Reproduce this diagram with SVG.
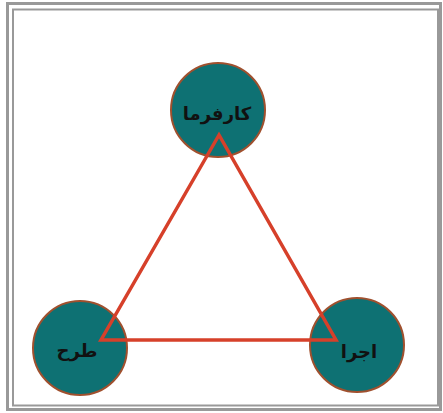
<svg xmlns="http://www.w3.org/2000/svg" width="443" height="413" viewBox="0 0 443 413">
<style>
.frame{fill:none;stroke:#999999}
.node circle{fill:#0e7173;stroke:#a0502e;stroke-width:2}
.node text{font-family:"DejaVu Sans","Liberation Sans",sans-serif;font-size:18px;font-weight:bold;fill:#111;text-anchor:middle;direction:rtl}
.edge{fill:none;stroke:#d6402a;stroke-width:3.5;stroke-linejoin:miter}
</style>
<rect width="443" height="413" fill="#ffffff"/>
<rect class="frame" x="7.5" y="3.5" width="433" height="406" stroke-width="3"/>
<rect class="frame" x="13" y="9.5" width="425" height="396" stroke-width="2"/>
<g id="node-top" class="node">
<circle cx="218" cy="110" r="47"/>
<text x="217" y="120">کارفرما</text>
</g>
<g id="node-left" class="node">
<circle cx="80" cy="348" r="47"/>
<text x="77" y="357">طرح</text>
</g>
<g id="node-right" class="node">
<circle cx="357" cy="345" r="47"/>
<text x="359" y="358">اجرا</text>
</g>
<g id="connectors">
<path class="edge" d="M219,135 L101,340 L336,340 Z"/>
</g>
</svg>
